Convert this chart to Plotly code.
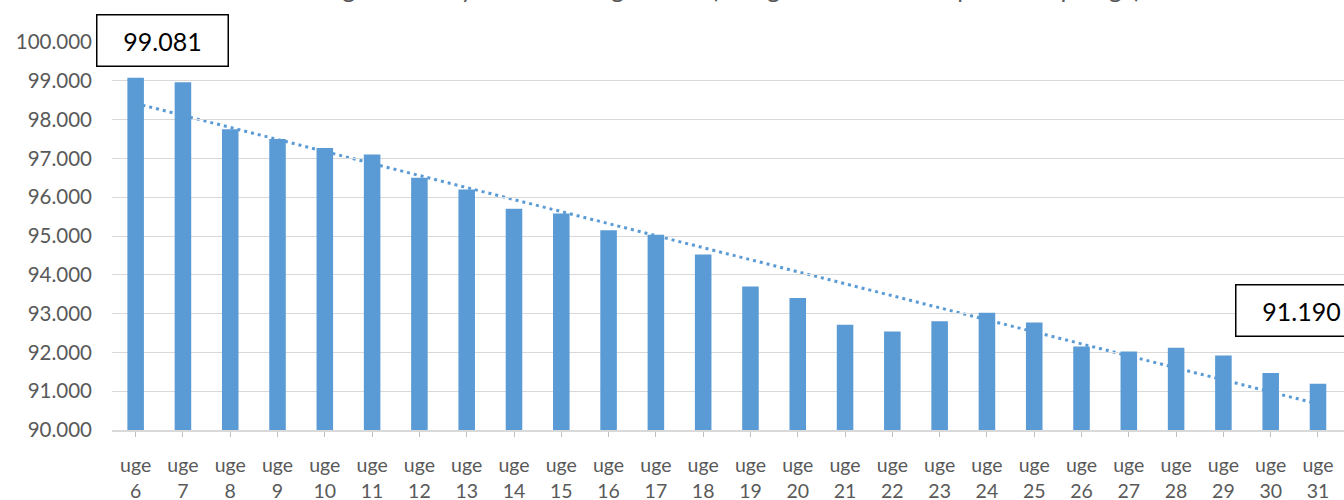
import numpy as np
import plotly.graph_objects as go

# Ugenumre og antal fuldtidspersoner pr. uge
weeks = [6, 7, 8, 9, 10, 11, 12, 13, 14, 15, 16, 17, 18, 19, 20,
         21, 22, 23, 24, 25, 26, 27, 28, 29, 30, 31]
tick_labels = [f"uge<br>{w}" for w in weeks]
values = [99081, 98960, 97750, 97500, 97270, 97100, 96500, 96200, 95700, 95580,
          95150, 95030, 94520, 93700, 93400, 92710, 92540, 92800, 93020, 92770,
          92150, 92020, 92120, 91920, 91470, 91190]
title_text = "Udviklingen i antal ydelsesmodtagere i alt (beregnet som fuldtidspersoner pr. uge)"

BAR = "#5B9BD5"
TXT = "#595959"
FONT = "Lato, 'Open Sans', sans-serif"

idx = np.arange(len(values))
slope, intercept = np.polyfit(idx, values, 1)

fig = go.Figure()
fig.add_trace(go.Bar(
    x=idx, y=values, marker=dict(color=BAR, line=dict(width=0)),
    hoverinfo="skip", showlegend=False,
))

# Lineær tendenslinje bag søjlerne
fig.add_shape(
    type="line", xref="x", yref="y", layer="below",
    x0=idx[0], y0=intercept + slope * idx[0],
    x1=idx[-1], y1=intercept + slope * idx[-1],
    line=dict(color=BAR, width=3, dash="3px,4px"),
)

# Værdimærker for første og sidste uge
for i, dx, dy in [(0, 27, 37), (len(values) - 1, -16, 73)]:
    fig.add_annotation(
        x=idx[i], y=values[i], xref="x", yref="y",
        text=f"{values[i]:,}".replace(",", "."),
        showarrow=False, xshift=dx, yshift=dy,
        width=126, height=46, borderpad=2,
        bordercolor="black", borderwidth=1.5, bgcolor="white",
        font=dict(family=FONT, size=25, color="black"),
    )

fig.add_annotation(
    text=title_text, xref="paper", yref="paper", x=0.475, y=1,
    xanchor="center", yanchor="bottom", yshift=37, showarrow=False,
    font=dict(family=FONT, size=25, color=TXT),
)

fig.update_layout(
    width=1344, height=500,
    margin=dict(l=112, r=0, t=42, b=70),
    paper_bgcolor="white", plot_bgcolor="white",
    separators=",.",
    bargap=0.65,
    font=dict(family=FONT, size=19, color=TXT),
    xaxis=dict(
        tickmode="array", tickvals=idx, ticktext=tick_labels,
        range=[-0.5, len(values) - 0.45], automargin=False,
        showline=True, linecolor="#D9D9D9", linewidth=1.5,
        ticks="outside", ticklen=5, tickcolor="#BFBFBF",
        showgrid=False, ticklabelstandoff=12,
        tickfont=dict(family=FONT, size=19.5, color=TXT),
    ),
    yaxis=dict(
        range=[90000, 100000], tickvals=list(range(90000, 100001, 1000)),
        tickformat=",.0f", showgrid=True, gridcolor="#D9D9D9", gridwidth=1.2,
        zeroline=False, showline=False, ticks="", ticklabelstandoff=19,
        automargin=False,
        tickfont=dict(family=FONT, size=20.5, color=TXT),
    ),
)

fig.write_html("out.html")
